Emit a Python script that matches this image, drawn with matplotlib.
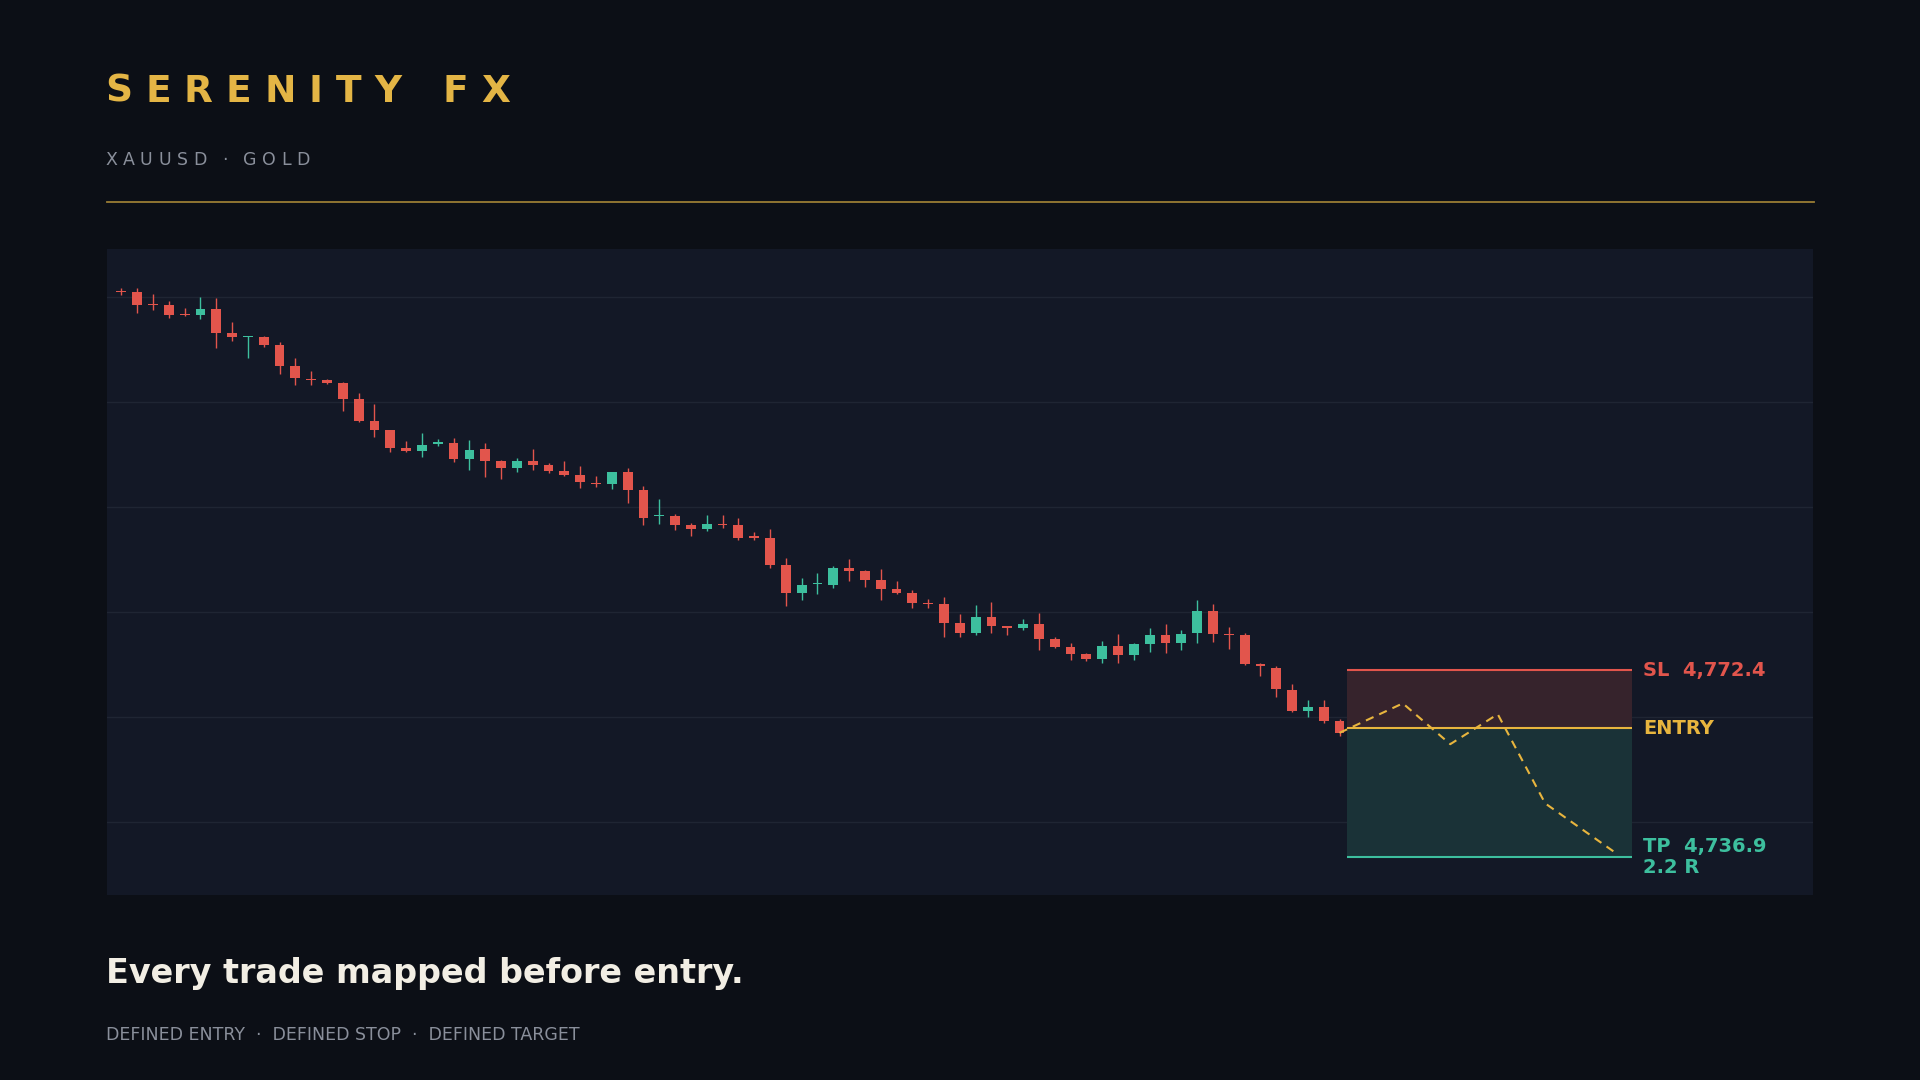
import numpy as np
import matplotlib
matplotlib.use("Agg")
import matplotlib.pyplot as plt
from matplotlib.lines import Line2D

# ---------------- data ----------------
opens = [4844.5, 4844.2, 4841.9, 4841.7, 4840.0, 4839.8, 4841.1, 4836.4, 4835.7, 4835.7,
         4834.1, 4830.1, 4827.8, 4827.45, 4826.95, 4823.85, 4819.7, 4817.95, 4814.7, 4814.0,
         4815.4, 4815.55, 4812.45, 4814.35, 4812.15, 4810.8, 4812.1, 4811.3, 4810.2, 4809.4,
         4808.0, 4807.7, 4810.0, 4806.6, 4801.6, 4801.6, 4800.0, 4799.15, 4800.2, 4799.9,
         4797.8, 4797.45, 4792.3, 4787.1, 4788.7, 4788.5, 4791.8, 4791.2, 4789.5, 4787.8,
         4787.0, 4785.25, 4784.9, 4781.3, 4779.4, 4782.5, 4780.75, 4780.4, 4781.1, 4778.3,
         4776.8, 4775.4, 4774.55, 4776.95, 4775.3, 4777.4, 4779.0, 4777.6, 4779.5, 4783.6,
         4779.3, 4779.0, 4773.5, 4772.8, 4768.7, 4764.6, 4765.4, 4762.7]
highs = [4845.0, 4845.0, 4843.9, 4842.45, 4841.25, 4843.3, 4843.15, 4838.45, 4835.9, 4835.8,
         4834.8, 4831.75, 4829.3, 4827.8, 4827.2, 4825.1, 4822.9, 4818.1, 4815.9, 4817.5,
         4816.3, 4816.6, 4816.2, 4815.5, 4812.4, 4812.8, 4814.5, 4811.8, 4812.1, 4811.25,
         4809.3, 4810.1, 4810.8, 4807.3, 4805.0, 4802.0, 4800.3, 4801.8, 4801.8, 4801.4,
         4798.7, 4799.3, 4793.8, 4790.0, 4790.9, 4792.1, 4793.5, 4791.4, 4791.6, 4789.3,
         4787.7, 4785.9, 4786.25, 4783.0, 4784.7, 4785.3, 4780.75, 4782.1, 4783.2, 4778.8,
         4777.65, 4775.75, 4778.0, 4779.2, 4777.65, 4780.4, 4781.25, 4780.1, 4785.8, 4784.9,
         4780.7, 4779.5, 4773.85, 4773.2, 4769.7, 4766.8, 4766.7, 4763.2]
lows = [4843.6, 4840.2, 4840.8, 4839.3, 4839.7, 4839.15, 4833.6, 4834.9, 4831.7, 4833.8,
        4828.65, 4826.6, 4826.6, 4826.8, 4821.6, 4819.5, 4816.7, 4813.8, 4813.85, 4812.9,
        4815.0, 4811.95, 4810.4, 4809.1, 4808.7, 4810.05, 4810.5, 4809.9, 4809.3, 4807.0,
        4807.2, 4806.8, 4804.2, 4799.9, 4800.2, 4799.1, 4797.9, 4798.85, 4799.5, 4797.1,
        4797.1, 4791.8, 4784.5, 4785.8, 4786.8, 4788.0, 4789.4, 4788.2, 4785.75, 4786.8,
        4784.2, 4784.3, 4778.7, 4778.7, 4779.0, 4779.5, 4779.1, 4780.05, 4776.25, 4776.6,
        4774.4, 4774.2, 4773.85, 4773.85, 4774.4, 4775.9, 4775.75, 4776.3, 4777.65, 4777.8,
        4776.5, 4773.4, 4771.3, 4767.3, 4764.55, 4763.5, 4762.3, 4759.9]
closes = [4844.3, 4841.7, 4841.75, 4839.8, 4839.8, 4841.1, 4836.4, 4835.6, 4835.9, 4834.1,
          4830.2, 4827.9, 4827.5, 4826.9, 4823.85, 4819.7, 4817.95, 4814.7, 4814.0, 4815.25,
          4815.7, 4812.45, 4814.3, 4812.1, 4810.8, 4812.1, 4811.3, 4810.2, 4809.4, 4808.1,
          4807.8, 4810.0, 4806.6, 4801.4, 4801.8, 4799.9, 4799.2, 4800.1, 4799.9, 4797.6,
          4797.5, 4792.3, 4787.0, 4788.5, 4788.9, 4791.8, 4791.3, 4789.5, 4787.8, 4787.1,
          4785.2, 4785.0, 4781.3, 4779.4, 4782.5, 4780.75, 4780.5, 4781.1, 4778.3, 4776.8,
          4775.5, 4774.6, 4776.95, 4775.3, 4777.3, 4779.0, 4777.6, 4779.35, 4783.6, 4779.3,
          4779.0, 4773.5, 4773.2, 4768.9, 4764.7, 4765.45, 4762.7, 4760.5]

entry_price = 4761.4
sl_price = 4772.4
tp_price = 4736.9
rr_label = "2.2 R"

# projected path (bar index, price)
proj_x = [77, 81, 84, 87, 90, 94.5]
proj_y = [4760.5, 4766.1, 4758.35, 4764.05, 4747.1, 4737.6]
zone_start, zone_end = 77.5, 95.5

title = "SERENITY FX"
subtitle = "XAUUSD · GOLD"
headline = "Every trade mapped before entry."
footer = "DEFINED ENTRY  ·  DEFINED STOP  ·  DEFINED TARGET"

# ---------------- style ----------------
BG = "#0c0f16"
PANEL = "#131826"
GRID = "#1f2533"
RED = "#e2554c"
GREEN = "#3dbf9e"
GOLD = "#e8b53e"
TITLE_GOLD = "#e4b545"
GOLD_LINE = "#9a7d34"
GRAY = "#8a8f9b"
WHITE = "#f2eee4"
RED_ZONE = "#36232c"
TEAL_ZONE = "#1a3237"

W, H = 1920, 1080
fig = plt.figure(figsize=(W / 100, H / 100), dpi=100, facecolor=BG)

# panel axes
left_px, right_px, top_px, bot_px = 106.5, 1813.5, 248.5, 895
ax = fig.add_axes([left_px / W, 1 - bot_px / H, (right_px - left_px) / W, (bot_px - top_px) / H])
ax.set_facecolor(PANEL)
for s in ax.spines.values():
    s.set_visible(False)
ax.set_xticks([])
ax.set_yticks([])
ax.set_xlim(-0.94, 106.96)
ax.set_ylim(4729.7, 4852.5)

for lvl in np.linspace(4743.5, 4843.3, 6):
    ax.axhline(lvl, color=GRID, lw=1.0, zorder=0)

# zones
ax.fill_between([zone_start, zone_end], entry_price, sl_price, color=RED_ZONE, lw=0, zorder=1)
ax.fill_between([zone_start, zone_end], tp_price, entry_price, color=TEAL_ZONE, lw=0, zorder=1)
ax.hlines(sl_price, zone_start, zone_end, color=RED, lw=1.5, zorder=3)
ax.hlines(entry_price, zone_start, zone_end, color=GOLD, lw=1.5, zorder=3)
ax.hlines(tp_price, zone_start, zone_end, color=GREEN, lw=1.5, zorder=3)

# candles
o = np.array(opens); h = np.array(highs); l = np.array(lows); c = np.array(closes)
idx = np.arange(len(o))
cols = np.where(c >= o, GREEN, RED)
ax.vlines(idx, l, h, colors=cols, lw=1.0, zorder=4)
body_bot = np.minimum(o, c)
body_h = np.maximum(np.abs(c - o), 0.18)
ax.bar(idx, body_h, bottom=body_bot, width=0.62, color=cols, lw=0, zorder=5)

# projection
ax.plot(proj_x, proj_y, color=GOLD, lw=1.5, ls=(0, (4, 3)), zorder=6)

# labels
lab_x = 96.2
ax.text(lab_x, sl_price, f"SL  {sl_price:,.1f}", color=RED, fontsize=14, fontweight="bold",
        va="center", ha="left", zorder=7)
ax.text(lab_x, entry_price, "ENTRY", color=GOLD, fontsize=14, fontweight="bold",
        va="center", ha="left", zorder=7)
ax.text(lab_x, tp_price, f"TP  {tp_price:,.1f}\n{rr_label}", color=GREEN, fontsize=14,
        fontweight="bold", va="center", ha="left", linespacing=1.15, zorder=7)

# divider
fig.add_artist(Line2D([left_px / W, right_px / W], [1 - 202 / H] * 2, color=GOLD_LINE,
                      lw=1.3, transform=fig.transFigure))

renderer = fig.canvas.get_renderer()


def spaced_text(x_px, baseline_px, s, tracking, space, **kw):
    x = x_px
    for ch in s:
        if ch == " ":
            x += space
            continue
        t = fig.text(x / W, 1 - baseline_px / H, ch, ha="left", va="baseline", **kw)
        bb = t.get_window_extent(renderer)
        x += bb.width + tracking


spaced_text(105, 101.7, title, 13.0, 28.0, color=TITLE_GOLD, fontsize=27, fontweight="bold")
spaced_text(105, 165, subtitle, 5.6, 10.0, color=GRAY, fontsize=12.5)

fig.text(105.5 / W, 1 - 983.3 / H, headline, color=WHITE, fontsize=24.0, fontweight="bold",
         ha="left", va="baseline")
fig.text(105.5 / W, 1 - 1040 / H, footer, color=GRAY, fontsize=12.5, ha="left", va="baseline")

fig.savefig("out.png", dpi=100, facecolor=BG)
